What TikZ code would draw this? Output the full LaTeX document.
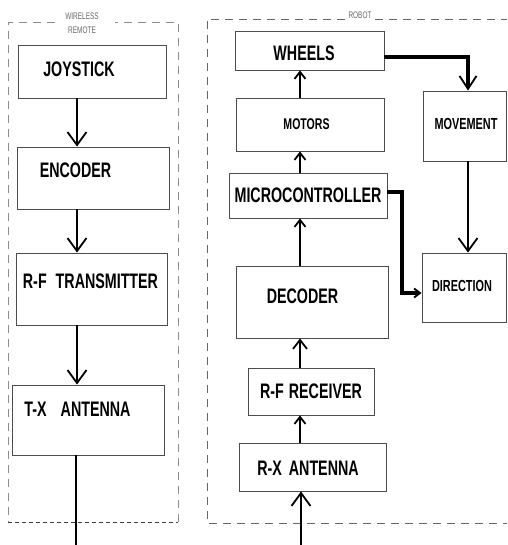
\documentclass[tikz,border=0pt]{standalone}
\usepackage{fontspec}
\setmainfont{Liberation Sans}[FakeStretch=0.68]
\usetikzlibrary{arrows.meta}

\newcommand{\nudge}[3]{\hspace*{#1}\hspace*{#1}\raisebox{#2}[\height][\depth]{#3}}

\tikzset{
  blk/.style={draw=black!70, line width=0.9pt, inner sep=0pt, font=\fontsize{21}{21}\selectfont\bfseries},
  smallblk/.style={blk, font=\fontsize{16}{16}\selectfont\bfseries},
  flow/.style={line width=1.8pt, -{Straight Barb[length=13pt,width=19pt,line width=1.8pt]}},
  upflow/.style={line width=1.8pt, -{Straight Barb[length=7pt,width=11pt,line width=1.8pt]}},
  heavy/.style={line width=3.6pt},
  group/.style={draw=black!45, line width=0.9pt, dash pattern=on 8pt off 6pt},
  grouplbl/.style={text=black!60, font=\fontsize{9.5}{14}\selectfont, inner sep=0pt, align=center}
}

\begin{document}
\begin{tikzpicture}[x=1pt, y=-1pt]
	\useasboundingbox (0,0) rectangle (507,545);
	\draw [group] (55,22) -- (8,22) -- (8,522);
	\draw [group, draw=black!75, dash pattern=on 4pt off 3pt] (8,522) -- (178,522);
	\draw [group] (178,522) -- (178,22) -- (115,22);
	\draw [group, draw=black!60] (345,19) -- (207,19) -- (207,523) -- (507,523);
	\draw [group, draw=black!60] (375,19) -- (507,19);
	\node [grouplbl] at (82,23) (remote) {WIRELESS\\REMOTE};
	\node [grouplbl] at (360,15) (robot) {ROBOT};
	\node [blk, minimum width=148pt, minimum height=53pt] at (92,71.5) (joy) {\nudge{-13pt}{2.5pt}{JOYSTICK}};
	\node [blk, minimum width=152pt, minimum height=62pt] at (93,178) (enc) {\nudge{-17.5pt}{7.5pt}{ENCODER}};
	\node [blk, minimum width=151pt, minimum height=72pt] at (91.5,289) (rft) {\nudge{-1pt}{8pt}{R-F\hspace{9pt}TRANSMITTER}};
	\node [blk, minimum width=152pt, minimum height=70pt] at (88,420) (txa) {\nudge{-10.5pt}{11pt}{T-X\hspace{14pt}ANTENNA}};
	\node [blk, minimum width=149pt, minimum height=39pt] at (309.5,50.5) (wheels) {\nudge{-5.5pt}{-3pt}{WHEELS}};
	\node [smallblk, minimum width=148pt, minimum height=53pt, font=\fontsize{15.5}{16}\selectfont\bfseries] at (310,124.5) (motors) {\nudge{-3.5pt}{0pt}{MOTORS}};
	\node [blk, minimum width=158pt, minimum height=45pt] at (308,195.5) (mc) {MICROCONTROLLER};
	\node [blk, minimum width=152pt, minimum height=72pt] at (312,302) (dec) {\nudge{-9.5pt}{6pt}{DECODER}};
	\node [blk, minimum width=126pt, minimum height=47pt] at (311,391.5) (rfr) {R-F\hspace{5pt}RECEIVER};
	\node [blk, minimum width=147pt, minimum height=48pt] at (312.5,467) (rxa) {\nudge{-4.5pt}{-1.5pt}{R-X\hspace{7pt}ANTENNA}};
	\node [smallblk, minimum width=83pt, minimum height=70pt] at (464.5,126) (mov) {\nudge{1.5pt}{2pt}{MOVEMENT}};
	\node [smallblk, minimum width=84pt, minimum height=69pt] at (464,287.5) (dir) {\nudge{-2pt}{1.5pt}{DIRECTION}};
	\coordinate (colL) at (77,0);
	\coordinate (colR) at (300,0);
	\coordinate (colM) at (468,0);
	\coordinate (jog) at (402,240);
	\coordinate (txout) at (76,545);
	\coordinate (rxin) at (301,545);
	\draw [flow] (joy.south -| colL) -- (enc.north -| colL);
	\draw [flow] (enc.south -| colL) -- (rft.north -| colL);
	\draw [flow] (rft.south -| colL) -- (txa.north -| colL);
	\draw [line width=1.8pt] (txa.south -| txout) -- (txout);
	\draw [flow] (rxin) -- (rxa.south -| rxin);
	\draw [upflow] (rxa.north -| colR) -- (rfr.south -| colR);
	\draw [upflow, -{Straight Barb[length=9pt,width=14pt,line width=1.8pt]}] (rfr.north -| colR) -- (dec.south -| colR);
	\draw [upflow] (dec.north -| colR) -- (mc.south -| colR);
	\draw [upflow] (mc.north -| colR) -- (motors.south -| colR);
	\draw [upflow] (motors.north -| colR) -- (wheels.south -| colR);
	\draw [heavy, -{Straight Barb[length=13pt,width=17pt,line width=1.8pt]}] ([yshift=-6.5pt]wheels.east) -| (mov.north -| colM);
	\draw [flow] (mov.south -| colM) -- (dir.north -| colM);
	\draw [heavy, -{Straight Barb[length=6pt,width=9pt,line width=1.8pt]}] ([yshift=3.5pt]mc.east) -| (jog) |- ([yshift=-5.5pt]dir.west);
\end{tikzpicture}
\end{document}
